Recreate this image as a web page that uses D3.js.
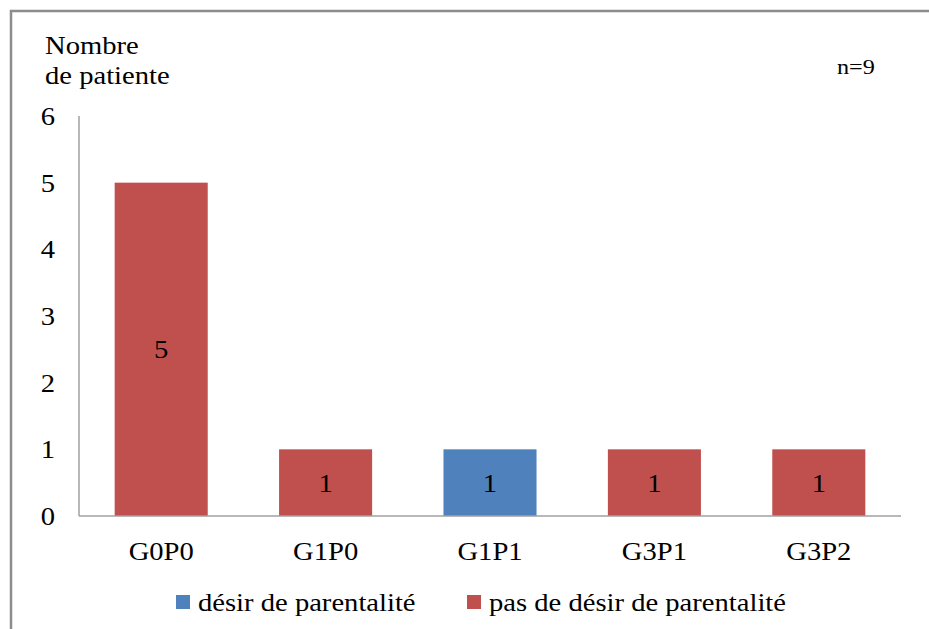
<!DOCTYPE html>
<html lang="fr">
<head>
<meta charset="UTF-8">
<title>Nombre de patiente</title>
<script src="https://d3js.org/d3.v7.min.js"></script>
<style>
  body { margin: 0; background: #fff; }
</style>
</head>
<body>
<div id="chart"></div>
<script>
// data
const categories = ["G0P0", "G1P0", "G1P1", "G3P1", "G3P2"];
const desir = [0, 0, 1, 0, 0];
const pasDesir = [5, 1, 0, 1, 1];
const seriesNames = ["désir de parentalité", "pas de désir de parentalité"];
const yTicks = [0, 1, 2, 3, 4, 5, 6];
const colors = ["#4F81BD", "#C0504D"];

const W = 929, H = 629;
const SX = 1.1; // text in the picture is a bit wider than tall
const svg = d3.select("#chart").append("svg")
    .attr("width", W).attr("height", H);

// draws a text stretched horizontally around its anchor point
function label(parent, x, y, txt, size, anchor) {
  return parent.append("text")
    .attr("transform", "translate(" + x + "," + y + ") scale(" + SX + ",1)")
    .attr("text-anchor", anchor || "start")
    .style("font-family", "Liberation Serif")
    .style("font-size", size + "px")
    .style("fill", "#000")
    .text(txt);
}

// frame (only top and left visible)
svg.append("path")
    .attr("d", "M11,629 V11 H929")
    .attr("fill", "none")
    .attr("stroke", "#8c8c8c")
    .attr("stroke-width", 2.5);

const x = d3.scaleBand().domain(categories).range([79, 901])
    .paddingInner(0.434).paddingOuter(0.217);
const y = d3.scaleLinear().domain([0, 6]).range([516, 116]);

// stacked data
const rows = categories.map((c, i) => ({ cat: c, d: desir[i], p: pasDesir[i] }));
const stack = d3.stack().keys(["d", "p"])(rows);

const g = svg.append("g");
stack.forEach((layer, k) => {
  const segs = layer.filter(s => s[1] > s[0]);
  g.selectAll(null).data(segs).enter()
    .append("rect")
    .attr("x", s => x(s.data.cat))
    .attr("width", x.bandwidth())
    .attr("y", s => y(s[1]))
    .attr("height", s => y(s[0]) - y(s[1]))
    .attr("fill", colors[k]);
  segs.forEach(s => {
    label(g, x(s.data.cat) + x.bandwidth() / 2, (y(s[0]) + y(s[1])) / 2 + 9, s[1] - s[0], 26, "middle");
  });
});

// axis lines
svg.append("line").attr("x1", 79).attr("x2", 79).attr("y1", 116).attr("y2", 516)
    .attr("stroke", "#a0a0a0").attr("stroke-width", 1.5);
svg.append("line").attr("x1", 79).attr("x2", 901).attr("y1", 516).attr("y2", 516)
    .attr("stroke", "#a0a0a0").attr("stroke-width", 1.5);

// y tick labels
yTicks.forEach(t => label(svg, 55, y(t) + 9, t, 26, "end"));

// x tick labels
categories.forEach(c => label(svg, x(c) + x.bandwidth() / 2, 560, c, 26, "middle"));

// y title
label(svg, 45, 54, "Nombre", 26);
label(svg, 45, 84, "de patiente", 26);

// n=9
label(svg, 837, 74, "n=9", 22);

// legend
const legX = [176, 467];
seriesNames.forEach((name, i) => {
  svg.append("rect").attr("x", legX[i]).attr("y", 595).attr("width", 14).attr("height", 14)
      .attr("fill", colors[i]);
  label(svg, legX[i] + 22, 611, name, 26);
});
</script>
</body>
</html>
